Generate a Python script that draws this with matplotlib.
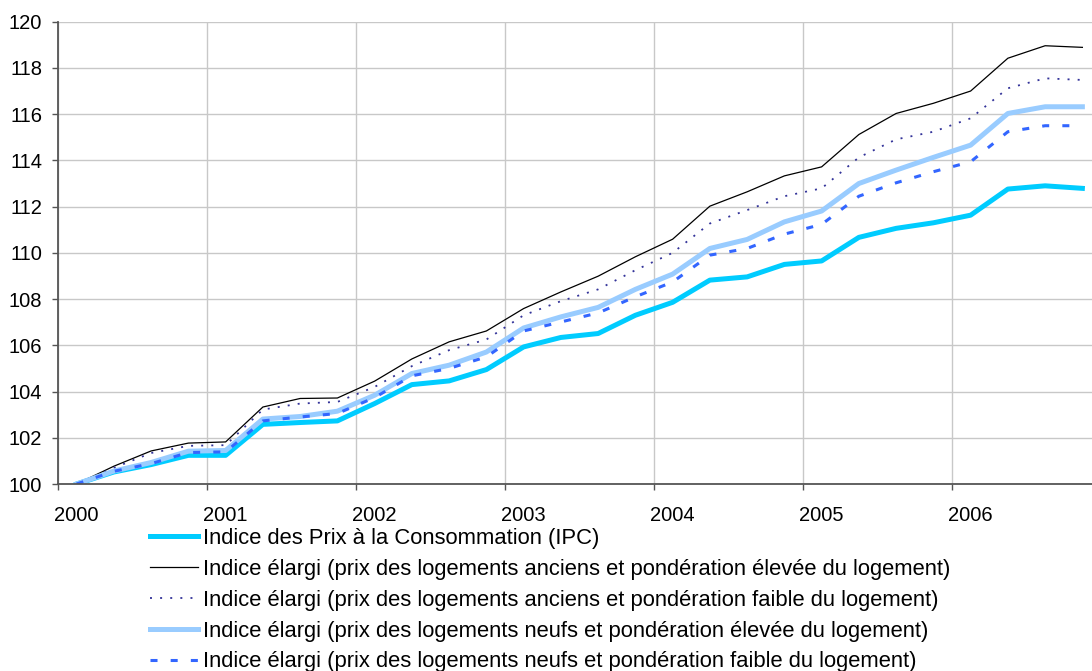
import matplotlib
matplotlib.use("Agg")
import matplotlib.pyplot as plt
import numpy as np

# Données trimestrielles 2000T1 - 2006T4 (base 100)
annees = ['2000', '2001', '2002', '2003', '2004', '2005', '2006']

ipc = [100.0, 100.52, 100.84, 101.24, 101.24, 102.58, 102.66, 102.73,
       103.48, 104.3, 104.46, 104.95, 105.93, 106.34, 106.51, 107.3,
       107.86, 108.82, 108.96, 109.5, 109.65, 110.67, 111.06, 111.3,
       111.63, 112.76, 112.9, 112.79]
anciens_eleve = [100.0, 100.77, 101.43, 101.77, 101.82, 103.33, 103.7, 103.72,
                 104.45, 105.41, 106.15, 106.62, 107.59, 108.31, 108.99, 109.83,
                 110.59, 112.02, 112.64, 113.33, 113.72, 115.12, 116.03, 116.47,
                 117.0, 118.42, 118.96, 118.89]
anciens_faible = [100.0, 100.7, 101.34, 101.65, 101.68, 103.22, 103.48, 103.55,
                  104.2, 105.1, 105.79, 106.25, 107.3, 107.91, 108.42, 109.25,
                  110.0, 111.27, 111.85, 112.45, 112.79, 114.13, 114.91, 115.24,
                  115.82, 117.12, 117.55, 117.48]
neufs_eleve = [100.0, 100.56, 100.93, 101.42, 101.45, 102.81, 102.92, 103.15,
               103.84, 104.78, 105.14, 105.71, 106.75, 107.23, 107.64, 108.42,
               109.08, 110.19, 110.58, 111.34, 111.81, 113.0, 113.58, 114.13,
               114.66, 116.03, 116.32, 116.32]
neufs_faible = [100.0, 100.55, 100.88, 101.36, 101.39, 102.73, 102.9, 103.05,
                103.74, 104.68, 105.0, 105.5, 106.62, 107.01, 107.4, 108.1,
                108.74, 109.9, 110.19, 110.81, 111.23, 112.45, 113.03, 113.51,
                113.94, 115.24, 115.5, 115.5]

labels = ['Indice des Prix à la Consommation (IPC)',
          'Indice élargi (prix des logements anciens et pondération élevée du logement)',
          'Indice élargi (prix des logements anciens et pondération faible du logement)',
          'Indice élargi (prix des logements neufs et pondération élevée du logement)',
          'Indice élargi (prix des logements neufs et pondération faible du logement)']

plt.rcParams['font.family'] = ['Liberation Sans', 'DejaVu Sans']

fig = plt.figure(figsize=(10.92, 6.71), dpi=100)
# l'axe déborde à droite comme dans l'original (coupé)
ax = fig.add_axes([58 / 1092, 1 - 484 / 671, (1101 - 58) / 1092, (484 - 21.7) / 671])

x = np.arange(len(ipc)) + 0.5
l1, = ax.plot(x, ipc, color='#00CCFF', lw=3.6)
l2, = ax.plot(x, anciens_eleve, color='black', lw=0.9)
l3, = ax.plot(x, anciens_faible, color='#333399', lw=1.3, dashes=(1.1, 4.5))
l4, = ax.plot(x, neufs_eleve, color='#99CCFF', lw=3.6)
l5, = ax.plot(x, neufs_faible, color='#3366FF', lw=2.2, dashes=(2.3, 4.3))

ax.set_xlim(0, len(ipc))
ax.set_ylim(100, 120)
ax.set_yticks(np.arange(100, 121, 2))
ax.set_xticks(np.arange(0, len(ipc) + 1, 4))
ax.set_xticklabels([])
ax.set_xticks(np.arange(len(annees)) * 4 + 0.5, minor=True)
ax.set_xticklabels(annees, minor=True)

ax.grid(True, which='major', color='#C8C8C8', lw=1.0)
ax.set_axisbelow(True)
for s in ['top', 'right']:
    ax.spines[s].set_visible(False)
for s in ['left', 'bottom']:
    ax.spines[s].set_color('#555555')
    ax.spines[s].set_linewidth(1.3)
ax.tick_params(axis='both', which='major', length=4.5, width=1, color='#555555',
               labelsize=14.5, pad=7)
ax.tick_params(axis='x', which='minor', length=0, labelsize=14.5, pad=15.5)

fig.legend([l1, l2, l3, l4, l5], labels, loc='upper left',
           bbox_to_anchor=(150 / 1092, 1 - 528 / 671), frameon=False,
           fontsize=15.8, handlelength=2.2, handletextpad=0.2,
           labelspacing=0.45, borderpad=0, borderaxespad=0)

fig.savefig('out.png', dpi=100)
